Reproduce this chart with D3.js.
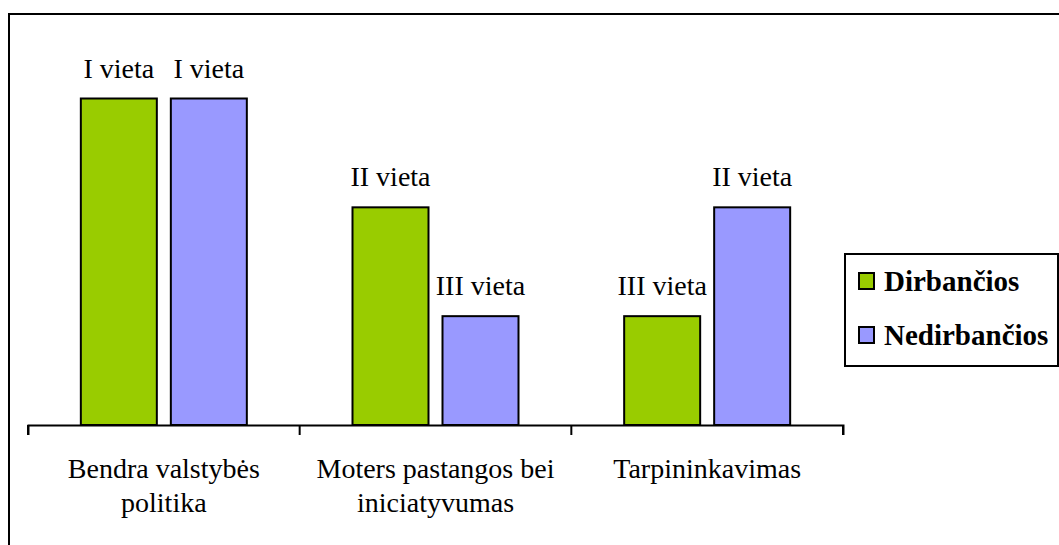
<!DOCTYPE html>
<html>
<head>
<meta charset="utf-8">
<script src="https://cdn.jsdelivr.net/npm/d3@7"></script>
<style>
	body { margin: 0; background: #fff; }
	svg { display: block; }
</style>
</head>
<body>
<div id="chart"></div>
<script>
// categories (each label split in lines as shown)
const categories = ['Bendra valstybės politika', 'Moters pastangos bei iniciatyvumas', 'Tarpininkavimas'];
const categoryLines = [['Bendra valstybės', 'politika'], ['Moters pastangos bei', 'iniciatyvumas'], ['Tarpininkavimas']];
const seriesNames = ['Dirbančios', 'Nedirbančios'];
const seriesColors = ['#99CC00', '#9999FF'];
// place score: 3 = I vieta, 2 = II vieta, 1 = III vieta
const dirbancios = [3, 2, 1];
const nedirbancios = [3, 1, 2];
const placeLabels = { 3: 'I vieta', 2: 'II vieta', 1: 'III vieta' };

const width = 1059;
const height = 545;
const serif = '"Liberation Serif", "Times New Roman", serif';

const svg = d3.select('#chart')
	.append('svg')
	.attr('width', width)
	.attr('height', height);

// outer chart frame (right and bottom edges run past the picture)
svg.append('rect')
	.attr('x', 9)
	.attr('y', 14)
	.attr('width', 1200)
	.attr('height', 700)
	.attr('fill', 'none')
	.attr('stroke', '#000')
	.attr('stroke-width', 2);

const x0 = d3.scaleBand()
	.domain(categories)
	.range([28, 843]);

const groupWidth = 166;
const x1 = d3.scaleBand()
	.domain(seriesNames)
	.range([0, groupWidth])
	.paddingInner(14 / 90);

const y = d3.scaleLinear()
	.domain([0, 3])
	.range([425, 98.5]);

const rows = categories.map((c, i) => ({
	cat: c,
	values: [dirbancios[i], nedirbancios[i]]
}));

const groups = svg.selectAll('g.group')
	.data(rows)
	.enter()
	.append('g')
	.attr('class', 'group')
	.attr('transform', (d) => `translate(${x0(d.cat) + (x0.bandwidth() - groupWidth) / 2},0)`);

groups.selectAll('rect')
	.data((d) => d.values.map((v, j) => ({ v, s: seriesNames[j], j })))
	.enter()
	.append('rect')
	.attr('x', (d) => x1(d.s))
	.attr('y', (d) => y(d.v))
	.attr('width', x1.bandwidth())
	.attr('height', (d) => y(0) - y(d.v))
	.attr('fill', (d) => seriesColors[d.j])
	.attr('stroke', '#000')
	.attr('stroke-width', 2);

groups.selectAll('text.place')
	.data((d) => d.values.map((v, j) => ({ v, s: seriesNames[j] })))
	.enter()
	.append('text')
	.attr('class', 'place')
	.attr('x', (d) => x1(d.s) + x1.bandwidth() / 2)
	.attr('y', (d) => y(d.v) - 21)
	.attr('text-anchor', 'middle')
	.style('font-family', serif)
	.style('font-size', '28px')
	.text((d) => placeLabels[d.v]);

// x axis
const xAxis = d3.axisBottom(x0)
	.tickSize(10)
	.tickSizeOuter(10)
	.tickFormat('');

const axisG = svg.append('g')
	.attr('transform', `translate(0,${y(0)})`)
	.call(xAxis);

// ticks sit on the band boundaries
axisG.selectAll('.tick').remove();
axisG.select('.domain')
	.attr('stroke', '#000')
	.attr('stroke-width', 2);
axisG.selectAll('line.bound')
	.data(d3.range(categories.length + 1))
	.enter()
	.append('line')
	.attr('class', 'bound')
	.attr('x1', (i) => x0.range()[0] + i * x0.step())
	.attr('x2', (i) => x0.range()[0] + i * x0.step())
	.attr('y1', 0)
	.attr('y2', 10)
	.attr('stroke', '#000')
	.attr('stroke-width', 2);

// category labels
const catText = svg.selectAll('text.cat')
	.data(categories)
	.enter()
	.append('text')
	.attr('class', 'cat')
	.attr('text-anchor', 'middle')
	.style('font-family', serif)
	.style('font-size', '28px')
	.attr('y', 478);

catText.selectAll('tspan')
	.data((d, i) => categoryLines[i].map((l) => ({ l, c: d })))
	.enter()
	.append('tspan')
	.attr('x', (d) => x0(d.c) + x0.bandwidth() / 2)
	.attr('dy', (d, k) => k === 0 ? 0 : 34)
	.text((d) => d.l);

// legend
const legend = svg.append('g');
legend.append('rect')
	.attr('x', 845)
	.attr('y', 254)
	.attr('width', 213)
	.attr('height', 112)
	.attr('fill', '#fff')
	.attr('stroke', '#000')
	.attr('stroke-width', 2);

const items = legend.selectAll('g.item')
	.data(seriesNames)
	.enter()
	.append('g')
	.attr('class', 'item')
	.attr('transform', (d, i) => `translate(0,${i * 54})`);

items.append('rect')
	.attr('x', 859)
	.attr('y', 273)
	.attr('width', 15)
	.attr('height', 16)
	.attr('fill', (d, i) => seriesColors[i])
	.attr('stroke', '#000')
	.attr('stroke-width', 2);

items.append('text')
	.attr('x', 884)
	.attr('y', 291)
	.style('font-family', serif)
	.style('font-size', '29px')
	.style('font-weight', 'bold')
	.text((d) => d);
</script>
</body>
</html>
